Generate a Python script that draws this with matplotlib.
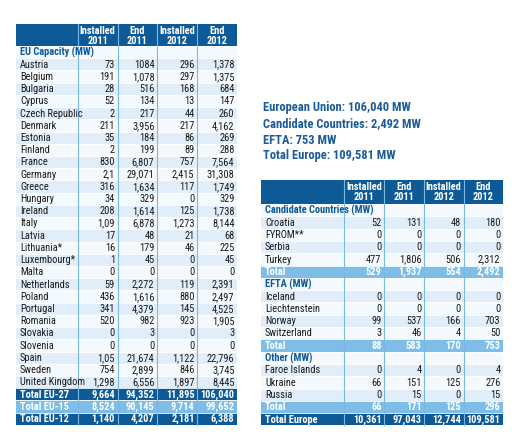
import matplotlib
matplotlib.use("Agg")
import matplotlib.pyplot as plt
from matplotlib.patches import Rectangle
from matplotlib import font_manager

# condensed font, first one that is installed
names = {f.name for f in font_manager.fontManager.ttflist}
prefer = ["Roboto Condensed", "Liberation Sans Narrow", "Barlow Semi Condensed",
          "Asap Condensed", "DejaVu Sans"]
FONT = [n for n in prefer if n in names][0]
plt.rcParams['font.family'] = [FONT, 'DejaVu Sans']

DARK = "#0d5a97"
LIGHT = "#7dbde7"
STRIPE = "#e1eef9"
PALE = "#f4f9fd"
GRID = "#7ab8e4"
TXT = "#1a1a1a"

header_lines = ["Installed\n2011", "End\n2011", "Installed\n2012", "End\n2012"]

eu_countries = ["Austria", "Belgium", "Bulgaria", "Cyprus", "Czech Republic", "Denmark",
                "Estonia", "Finland", "France", "Germany", "Greece", "Hungary", "Ireland",
                "Italy", "Latvia", "Lithuania*", "Luxembourg*", "Malta", "Netherlands",
                "Poland", "Portugal", "Romania", "Slovakia", "Slovenia", "Spain", "Sweden",
                "United Kingdom"]
eu_inst11 = ["73", "191", "28", "52", "2", "211", "35", "2", "830", "2,1", "316", "34", "208",
             "1,09", "17", "16", "1", "0", "59", "436", "341", "520", "0", "0", "1,05", "754",
             "1,298"]
eu_end11 = ["1084", "1,078", "516", "134", "217", "3,956", "184", "199", "6,807", "29,071",
            "1,634", "329", "1,614", "6,878", "48", "179", "45", "0", "2,272", "1,616",
            "4,379", "982", "3", "0", "21,674", "2,899", "6,556"]
eu_inst12 = ["296", "297", "168", "13", "44", "217", "86", "89", "757", "2,415", "117", "0",
             "125", "1,273", "21", "46", "0", "0", "119", "880", "145", "923", "0", "0",
             "1,122", "846", "1,897"]
eu_end12 = ["1,378", "1,375", "684", "147", "260", "4,162", "269", "288", "7,564", "31,308",
            "1,749", "329", "1,738", "8,144", "68", "225", "45", "0", "2,391", "2,497",
            "4,525", "1,905", "3", "0", "22,796", "3,745", "8,445"]
eu_totals = [("Total EU-27", ["9,664", "94,352", "11,895", "106,040"], DARK),
             ("Total EU-15", ["8,524", "90,145", "9,714", "99,652"], LIGHT),
             ("Total EU-12", ["1,140", "4,207", "2,181", "6,388"], DARK)]

cand_countries = ["Croatia", "FYROM**", "Serbia", "Turkey"]
cand_values = [["52", "131", "48", "180"], ["0", "0", "0", "0"], ["0", "0", "0", "0"],
               ["477", "1,806", "506", "2,312"]]
cand_total = ["529", "1,937", "554", "2,492"]

efta_countries = ["Iceland", "Liechtenstein", "Norway", "Switzerland"]
efta_values = [["0", "0", "0", "0"], ["0", "0", "0", "0"], ["99", "537", "166", "703"],
               ["3", "46", "4", "50"]]
efta_total = ["88", "583", "170", "753"]

other_countries = ["Faroe Islands", "Ukraine", "Russia"]
other_values = [["0", "4", "0", "4"], ["66", "151", "125", "276"], ["0", "15", "0", "15"]]
other_total = ["66", "171", "125", "296"]
europe_total = ["10,361", "97,043", "12,744", "109,581"]

summary = ["European Union: 106,040 MW", "Candidate Countries: 2,492 MW",
           "EFTA: 753 MW", "Total Europe: 109,581 MW"]

fig = plt.figure(figsize=(5.22, 4.32), dpi=100)
ax = fig.add_axes([0, 0, 1, 1])
ax.set_xlim(0, 522)
ax.set_ylim(432, 0)
ax.axis("off")


def draw_table(x0, cols, y_head, head_h, rows, row_h):
    """rows: list of (kind, label, values)"""
    x1 = cols[-1]
    ax.add_patch(Rectangle((x0, y_head), x1 - x0, head_h, color=DARK, lw=0))
    for j, h in enumerate(header_lines):
        xc = (cols[j] + cols[j + 1]) / 2
        ax.text(xc, y_head + head_h / 2 + 0.5, h, color="white", fontsize=7.5, weight="bold",
                ha="center", va="center", linespacing=1.0)
    y = y_head + head_h
    stripe = 0
    for kind, label, vals in rows:
        if kind == "section":
            bg, fc, bold = PALE, DARK, True
            stripe = 0
        elif kind == "data":
            bg = STRIPE if stripe % 2 == 0 else PALE
            fc, bold = TXT, False
            stripe += 1
        else:
            bg, fc, bold = kind, "white", True
        ax.add_patch(Rectangle((x0, y), x1 - x0, row_h, color=bg, lw=0))
        ax.plot([x0, x1], [y, y], color="white", lw=0.6)
        ax.text(x0 + 4, y + row_h / 2 + 0.3, label, color=fc, fontsize=7.5,
                weight="bold" if bold else "normal", ha="left", va="center")
        if vals:
            for j, v in enumerate(vals):
                ax.text(cols[j + 1] - 2.5, y + row_h / 2 + 0.3, v, color=fc, fontsize=7.5,
                        weight="bold" if bold else "normal", ha="right", va="center")
        y += row_h
    # column dividers
    for c in cols[:-1]:
        ax.plot([c, c], [y_head, y], color=GRID, lw=0.8)


# left table
left_rows = [("section", "EU Capacity (MW)", None)]
for k in range(len(eu_countries)):
    left_rows.append(("data", eu_countries[k],
                      [eu_inst11[k], eu_end11[k], eu_inst12[k], eu_end12[k]]))
for name, vals, col in eu_totals:
    left_rows.append((col, name, vals))
draw_table(16, [78, 117.5, 157, 197, 237], 24, 22, left_rows, 12.22)

# right table
right_rows = [("section", "Candidate Countries (MW)", None)]
right_rows += [("data", c, v) for c, v in zip(cand_countries, cand_values)]
right_rows.append((LIGHT, "Total", cand_total))
right_rows.append(("section", "EFTA (MW)", None))
right_rows += [("data", c, v) for c, v in zip(efta_countries, efta_values)]
right_rows.append((LIGHT, "Total", efta_total))
right_rows.append(("section", "Other (MW)", None))
right_rows += [("data", c, v) for c, v in zip(other_countries, other_values)]
right_rows.append((LIGHT, "Total", other_total))
right_rows.append((DARK, "Total Europe", europe_total))
draw_table(261, [344, 384, 424, 463.5, 503], 180, 24, right_rows, 12.3)

# summary text
for i, s in enumerate(summary):
    ax.text(263, 108 + i * 16, s, color="#1b5b98", fontsize=9, weight="bold",
            ha="left", va="center")

fig.savefig("out.png", dpi=100)
